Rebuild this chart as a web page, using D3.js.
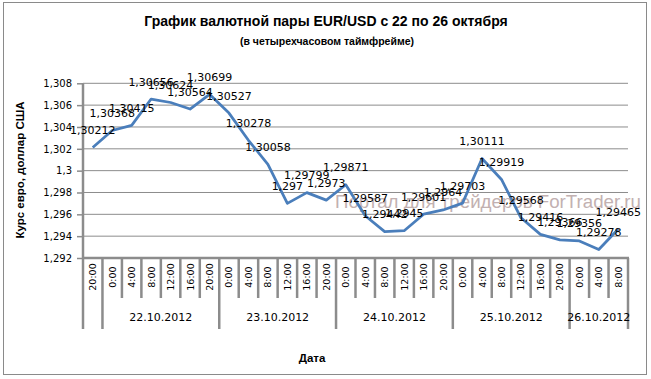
<!DOCTYPE html>
<html><head><meta charset="utf-8">
<script src="https://cdn.jsdelivr.net/npm/d3@7"></script>
<style>body{margin:0;background:#fff;}svg{display:block;}</style>
</head><body>
<script>
const hours = ["20:00","0:00","4:00","8:00","12:00","16:00","20:00","0:00","4:00","8:00","12:00","16:00","20:00","0:00","4:00","8:00","12:00","16:00","20:00","0:00","4:00","8:00","12:00","16:00","20:00","0:00","4:00","8:00"];
const dates = ["", "22.10.2012", "23.10.2012", "24.10.2012", "25.10.2012", "26.10.2012"];
const dateSpans = [1, 6, 6, 6, 6, 3];
const values = [1.30212,1.30368,1.30415,1.30656,1.30624,1.30564,1.30699,1.30527,1.30278,1.30058,1.297,1.29799,1.2973,1.29871,1.29587,1.29442,1.2945,1.29601,1.2964,1.29703,1.30111,1.29919,1.29568,1.29416,1.29366,1.29356,1.29278,1.29465];
const yTicks = [1.292,1.294,1.296,1.298,1.3,1.302,1.304,1.306,1.308];
const title = "График валютной пары EUR/USD с 22 по 26 октября";
const subtitle = "(в четырехчасовом  таймфрейме)";
const yTitle = "Курс евро, доллар США";
const xTitle = "Дата";
const watermark = "Портал для трейдеров ForTrader.ru";

const W = 651, H = 379;
const L = 83, R = 628, T = 83.3, B = 258;
const svg = d3.select("body").append("svg").attr("width", W).attr("height", H);
const fmt = v => String(v).replace(".", ",");

svg.append("rect").attr("x", 3.5).attr("y", 2.5).attr("width", 643).attr("height", 372)
  .attr("fill", "#fff").attr("stroke", "#8a8a8a").attr("stroke-width", 1);

const x = d3.scaleBand().domain(d3.range(hours.length)).range([L, R]).padding(0);
const y = d3.scaleLinear().domain([1.292, 1.308]).range([B, T]);

// gridlines
svg.append("g").selectAll("line").data(yTicks.slice(1)).join("line")
  .attr("x1", L).attr("x2", R).attr("y1", d => y(d)).attr("y2", d => y(d))
  .attr("stroke", "#8c8c8c").attr("stroke-width", 1);

// y axis
const yAxis = d3.axisLeft(y).tickValues(yTicks).tickFormat(fmt).tickSize(6).tickPadding(5);
const gy = svg.append("g").attr("transform", `translate(${L},0)`).call(yAxis);
gy.select(".domain").remove();
gy.selectAll(".tick line").attr("stroke", "#8c8c8c").attr("stroke-width", 1.5);
gy.selectAll(".tick text").attr("font-family", "DejaVu Sans").attr("font-size", 10).attr("fill", "#000");
svg.append("line").attr("x1", L).attr("x2", L).attr("y1", y(1.308)).attr("y2", B + 1)
  .attr("stroke", "#8c8c8c").attr("stroke-width", 2.5);

// x axis ticks (category separators)
const groupBounds = [0];
dateSpans.forEach(s => groupBounds.push(groupBounds[groupBounds.length - 1] + s));
const bounds = d3.range(hours.length + 1);
const bx = i => i < hours.length ? x(i) : R;
svg.append("g").selectAll("line").data(bounds).join("line")
  .attr("x1", d => bx(d)).attr("x2", d => bx(d))
  .attr("y1", B).attr("y2", d => groupBounds.includes(d) ? 329 : 298)
  .attr("stroke", "#8c8c8c").attr("stroke-width", 2.5);
svg.append("line").attr("x1", L - 1).attr("x2", R + 1).attr("y1", B).attr("y2", B)
  .attr("stroke", "#8c8c8c").attr("stroke-width", 2.5);

// hour labels
svg.append("g").selectAll("text").data(hours).join("text")
  .attr("transform", (d, i) => `translate(${x(i) + x.bandwidth() / 2},277) rotate(-90)`)
  .attr("text-anchor", "middle").attr("dominant-baseline", "central")
  .attr("font-family", "DejaVu Sans").attr("font-size", 9.5).attr("fill", "#000")
  .text(d => d);

// date labels
svg.append("g").selectAll("text").data(dates).join("text")
  .attr("x", (d, i) => (bx(groupBounds[i]) + bx(groupBounds[i + 1])) / 2)
  .attr("y", 317).attr("text-anchor", "middle").attr("dominant-baseline", "central")
  .attr("font-family", "DejaVu Sans").attr("font-size", 11).attr("fill", "#000")
  .text(d => d);

// watermark
svg.append("text").attr("x", 335).attr("y", 208).attr("font-family", "Liberation Sans")
  .attr("font-size", 19).attr("textLength", 306).attr("lengthAdjust", "spacingAndGlyphs")
  .attr("fill", "#b8a4a4").attr("opacity", 0.85).text(watermark);

// line
const line = d3.line().x((d, i) => x(i) + x.bandwidth() / 2).y(d => y(d));
svg.append("path").datum(values).attr("d", line).attr("fill", "none")
  .attr("stroke", "#4a7ebb").attr("stroke-width", 2.75).attr("stroke-linejoin", "round");

// data labels
svg.append("g").selectAll("text").data(values).join("text")
  .attr("x", (d, i) => x(i) + x.bandwidth() / 2)
  .attr("y", d => y(d) - 17).attr("text-anchor", "middle").attr("dominant-baseline", "central")
  .attr("font-family", "DejaVu Sans").attr("font-size", 11).attr("fill", "#000")
  .text(d => fmt(d));

// titles
svg.append("text").attr("x", 326).attr("y", 21).attr("text-anchor", "middle").attr("dominant-baseline", "central")
  .attr("font-family", "Liberation Sans").attr("font-weight", "bold").attr("font-size", 14).text(title);
svg.append("text").attr("x", 327).attr("y", 41).attr("text-anchor", "middle").attr("dominant-baseline", "central")
  .attr("font-family", "Liberation Sans").attr("font-weight", "bold").attr("font-size", 10.5).text(subtitle);
svg.append("text").attr("transform", "translate(20,170) rotate(-90)").attr("text-anchor", "middle")
  .attr("dominant-baseline", "central").attr("font-family", "Liberation Sans").attr("font-weight", "bold")
  .attr("font-size", 11.5).text(yTitle);
svg.append("text").attr("x", 312).attr("y", 358).attr("text-anchor", "middle").attr("dominant-baseline", "central")
  .attr("font-family", "Liberation Sans").attr("font-weight", "bold").attr("font-size", 11.5).text(xTitle);
</script>
</body></html>
